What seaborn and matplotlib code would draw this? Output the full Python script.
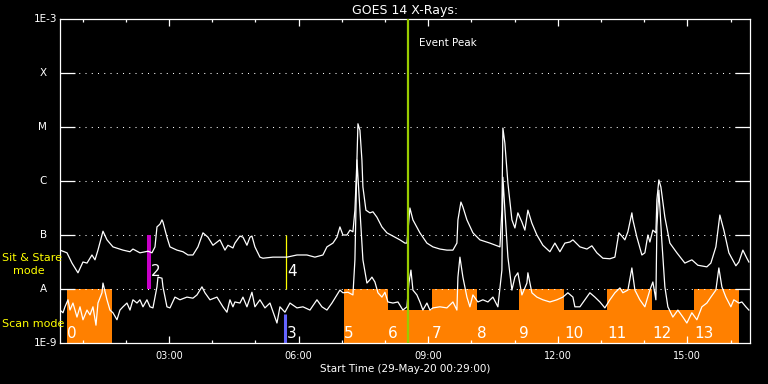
import numpy as np
import pandas as pd
import matplotlib
matplotlib.use("Agg")
import matplotlib.pyplot as plt
import seaborn as sns

# ---------------- data ----------------
# time in decimal hours (29-May-2020), flux given as log10(W/m^2)
long_hours = [
    0.475, 0.637, 0.752, 0.891, 1.007, 1.100, 1.215, 1.285, 1.354, 1.470,
    1.563, 1.701, 1.933, 2.095, 2.164, 2.326, 2.442, 2.512, 2.604, 2.674,
    2.720, 2.789, 2.836, 2.859, 2.951, 3.021, 3.183, 3.322, 3.438, 3.553,
    3.669, 3.785, 3.900, 4.016, 4.178, 4.294, 4.363, 4.479, 4.525, 4.641,
    4.711, 4.803, 4.873, 4.919, 4.988, 5.104, 5.174, 5.405, 5.729, 5.961,
    6.192, 6.377, 6.562, 6.655, 6.794, 6.887, 6.956, 7.025, 7.118, 7.188,
    7.257, 7.303, 7.350, 7.373, 7.419, 7.465, 7.488, 7.558, 7.650, 7.720,
    7.812, 7.928, 8.044, 8.183, 8.345, 8.461, 8.507, 8.576, 8.646, 8.808,
    8.970, 9.109, 9.271, 9.433, 9.572, 9.664, 9.688, 9.757, 9.803, 9.896,
    10.035, 10.197, 10.428, 10.660, 10.706, 10.729, 10.775, 10.845, 10.938, 11.007,
    11.076, 11.169, 11.238, 11.308, 11.400, 11.516, 11.655, 11.817, 11.933, 12.049,
    12.164, 12.280, 12.350, 12.512, 12.674, 12.789, 12.905, 13.044, 13.206, 13.322,
    13.414, 13.484, 13.553, 13.623, 13.715, 13.738, 13.831, 13.947, 14.016, 14.086,
    14.132, 14.201, 14.271, 14.294, 14.340, 14.387, 14.479, 14.595, 14.757, 14.942,
    15.104, 15.243, 15.451, 15.544, 15.660, 15.752, 15.845, 15.961, 16.123, 16.192,
    16.285, 16.377, 16.424]
long_logflux = [
    -7.28, -7.33, -7.52, -7.70, -7.50, -7.52, -7.37, -7.46, -7.28, -6.93,
    -7.09, -7.22, -7.28, -7.31, -7.26, -7.33, -7.31, -7.30, -7.33, -7.22,
    -6.85, -6.80, -6.72, -6.76, -7.04, -7.22, -7.28, -7.31, -7.37, -7.37,
    -7.22, -6.96, -7.04, -7.19, -7.09, -7.28, -7.19, -7.24, -7.15, -7.02,
    -7.04, -7.19, -7.04, -7.02, -7.22, -7.41, -7.43, -7.41, -7.41, -7.37,
    -7.37, -7.41, -7.37, -7.22, -7.15, -7.04, -6.85, -7.00, -7.00, -6.91,
    -6.94, -6.54, -5.61, -4.94, -5.06, -5.61, -6.11, -6.54, -6.59, -6.57,
    -6.67, -6.85, -6.96, -7.02, -7.09, -7.15, -7.15, -6.50, -6.72, -6.96,
    -7.15, -7.22, -7.26, -7.28, -7.28, -7.15, -6.72, -6.39, -6.48, -6.72,
    -6.96, -7.09, -7.15, -7.22, -6.54, -5.02, -5.30, -6.04, -6.72, -6.87,
    -6.59, -6.76, -6.91, -6.54, -6.78, -7.00, -7.19, -7.31, -7.15, -7.31,
    -7.15, -7.13, -7.09, -7.22, -7.26, -7.20, -7.33, -7.43, -7.44, -7.41,
    -6.96, -7.02, -7.09, -6.94, -6.59, -6.72, -7.04, -7.37, -7.33, -7.00,
    -7.13, -6.91, -6.96, -6.35, -5.98, -6.11, -6.67, -7.15, -7.33, -7.52,
    -7.46, -7.56, -7.59, -7.52, -7.22, -6.63, -6.91, -7.33, -7.57, -7.50,
    -7.28, -7.43, -7.50]

short_hours = [
    0.475, 0.544, 0.590, 0.660, 0.706, 0.775, 0.868, 0.938, 1.007, 1.100,
    1.169, 1.238, 1.308, 1.354, 1.447, 1.470, 1.563, 1.632, 1.701, 1.794,
    1.863, 1.933, 2.025, 2.095, 2.164, 2.257, 2.326, 2.396, 2.488, 2.558,
    2.627, 2.720, 2.743, 2.836, 2.859, 2.951, 3.021, 3.137, 3.252, 3.414,
    3.553, 3.646, 3.762, 3.831, 3.947, 4.109, 4.248, 4.340, 4.410, 4.479,
    4.525, 4.641, 4.711, 4.803, 4.919, 4.988, 5.104, 5.220, 5.336, 5.498,
    5.567, 5.683, 5.799, 5.961, 6.100, 6.262, 6.424, 6.539, 6.655, 6.771,
    6.887, 6.956, 7.025, 7.141, 7.257, 7.303, 7.326, 7.350, 7.419, 7.488,
    7.581, 7.650, 7.697, 7.766, 7.836, 7.928, 7.998, 8.067, 8.183, 8.299,
    8.414, 8.507, 8.553, 8.600, 8.646, 8.738, 8.808, 8.877, 8.970, 9.039,
    9.109, 9.271, 9.433, 9.572, 9.664, 9.688, 9.734, 9.803, 9.896, 9.965,
    10.035, 10.150, 10.266, 10.382, 10.498, 10.613, 10.706, 10.729, 10.775, 10.845,
    10.938, 11.007, 11.076, 11.169, 11.285, 11.308, 11.400, 11.516, 11.655, 11.817,
    11.979, 12.118, 12.234, 12.350, 12.396, 12.512, 12.627, 12.743, 12.859, 12.975,
    13.090, 13.206, 13.322, 13.438, 13.507, 13.623, 13.715, 13.785, 13.900, 14.016,
    14.132, 14.201, 14.271, 14.294, 14.340, 14.410, 14.479, 14.549, 14.664, 14.780,
    14.896, 14.988, 15.104, 15.220, 15.336, 15.451, 15.544, 15.660, 15.729, 15.799,
    15.891, 16.007, 16.076, 16.192, 16.262, 16.354, 16.424]
short_logflux = [
    -8.39, -8.44, -8.33, -8.20, -8.39, -8.26, -8.52, -8.33, -8.57, -8.39,
    -8.48, -8.33, -8.67, -8.26, -8.07, -7.89, -8.20, -8.39, -8.44, -8.57,
    -8.39, -8.33, -8.26, -8.39, -8.20, -8.26, -8.20, -8.33, -8.20, -8.33,
    -8.35, -7.96, -7.78, -7.80, -7.96, -8.33, -8.35, -8.15, -8.20, -8.15,
    -8.17, -8.11, -7.96, -8.07, -8.20, -8.15, -8.33, -8.43, -8.20, -8.33,
    -8.24, -8.26, -8.15, -8.33, -8.06, -8.33, -8.20, -8.35, -8.26, -8.63,
    -8.33, -8.43, -8.26, -8.35, -8.33, -8.39, -8.20, -8.33, -8.39, -8.26,
    -8.11, -8.02, -8.07, -8.06, -8.11, -7.46, -6.54, -5.61, -6.54, -7.46,
    -7.89, -7.83, -7.78, -7.87, -8.07, -8.15, -8.06, -8.24, -8.26, -8.24,
    -8.39, -8.33, -7.89, -7.65, -8.02, -8.11, -8.24, -8.39, -8.26, -8.39,
    -8.35, -8.33, -8.35, -8.24, -8.39, -7.78, -7.41, -7.78, -8.15, -8.33,
    -8.11, -8.24, -8.20, -8.24, -8.15, -8.33, -7.65, -5.93, -6.54, -7.41,
    -8.02, -7.78, -7.70, -8.11, -7.89, -7.70, -8.07, -8.15, -8.20, -8.24,
    -8.20, -8.15, -8.07, -8.15, -8.33, -8.33, -8.20, -8.07, -8.15, -8.24,
    -8.35, -8.20, -8.07, -7.98, -8.07, -8.02, -7.61, -8.02, -8.20, -8.33,
    -8.02, -7.87, -8.20, -6.85, -6.17, -7.13, -7.96, -8.33, -8.52, -8.39,
    -8.52, -8.63, -8.44, -8.57, -8.33, -8.26, -8.15, -8.02, -7.61, -7.96,
    -8.15, -8.33, -8.20, -8.26, -8.24, -8.33, -8.39]

# scan-mode observation blocks
scan_labels = ["0", "5", "6", "7", "8", "9", "10", "11", "12", "13"]
scan_start = [0.637, 7.049, 8.067, 9.086, 10.127, 11.100, 12.141, 13.137, 14.178, 15.150]
scan_end = [1.678, 8.067, 9.086, 10.127, 11.100, 12.141, 13.137, 14.178, 15.150, 16.192]
scan_top = [1e-8, 1e-8, 4.1e-9, 1e-8, 4.1e-9, 1e-8, 4.1e-9, 1e-8, 4.1e-9, 1e-8]

# sit & stare / scan markers
marker_labels = ["2", "3", "4"]
marker_hours = [2.535, 5.690, 5.706]
marker_low = [1e-8, 1e-9, 1e-8]
marker_high = [1e-7, 3.4e-9, 1e-7]
event_peak_hour = 8.53

class_levels = [1e-9, 1e-8, 1e-7, 1e-6, 1e-5, 1e-4, 1e-3]
class_labels = ["1E-9", "A", "B", "C", "M", "X", "1E-3"]
x_ticks = [3, 6, 9, 12, 15]
x_ticklabels = ["03:00", "06:00", "09:00", "12:00", "15:00"]
x_limits = (0.475, 16.45)

# ---------------- figure ----------------
W, H = 768, 384
fig = plt.figure(figsize=(W / 100, H / 100), dpi=100, facecolor="black")
ax = fig.add_axes([60 / W, (H - 343) / H, 690 / W, 324 / H], facecolor="black")
plt.rcParams["font.family"] = ["DejaVu Sans"]

ax.set_yscale("log")
ax.set_xlim(*x_limits)
ax.set_ylim(class_levels[0], class_levels[-1])

# scan blocks
widths = [e - s for s, e in zip(scan_start, scan_end)]
heights = [t - class_levels[0] for t in scan_top]
ax.bar(scan_start, heights, width=widths, bottom=class_levels[0], align="edge",
       color="#ff8000", linewidth=0, zorder=1)
for lab, s in zip(scan_labels, scan_start):
    ax.annotate(lab, xy=(s, class_levels[0]), xytext=(0, 10), textcoords="offset pixels",
                ha="left", va="center", color="white", fontsize=11, zorder=5)

# markers
m_colors = ["#c800c8", "#6464ff", "#ffff00"]
m_widths = [2.9, 2.2, 0.9]
for lab, h, lo, hi, c, w in zip(marker_labels, marker_hours, marker_low, marker_high, m_colors, m_widths):
    ax.plot([h, h], [lo, hi], color=c, lw=w, solid_capstyle="butt", zorder=2)
    dy = 10 if lo == class_levels[0] else 17
    ax.annotate(lab, xy=(h, lo), xytext=(1.5, dy), textcoords="offset pixels",
                ha="left", va="center", color="white", fontsize=11, zorder=5)

# curves
df_long = pd.DataFrame({"hours": long_hours, "flux": np.power(10.0, long_logflux)})
df_short = pd.DataFrame({"hours": short_hours, "flux": np.power(10.0, short_logflux)})
sns.lineplot(data=df_long, x="hours", y="flux", color="white", lw=0.9, ax=ax,
             estimator=None, sort=False, zorder=3)
sns.lineplot(data=df_short, x="hours", y="flux", color="white", lw=0.9, ax=ax,
             estimator=None, sort=False, zorder=3)

# event peak
ax.axvline(event_peak_hour, color="#99cc00", lw=1.6, zorder=4)
ax.annotate("Event Peak", xy=(event_peak_hour, class_levels[-1]), xytext=(11, -24),
            textcoords="offset pixels", ha="left", va="center", color="white", fontsize=7.5)

# axes styling
for sp in ax.spines.values():
    sp.set_color("white")
    sp.set_linewidth(0.9)
ax.set_yticks(class_levels[1:-1])
ax.yaxis.set_minor_locator(matplotlib.ticker.NullLocator())
ax.tick_params(axis="y", which="major", direction="in", length=10.8, width=0.9,
               color="white", left=True, right=True, labelleft=False)
ax.grid(axis="y", which="major", color="white", linestyle=(0, (1, 5)), linewidth=0.75)
ax.grid(axis="x", visible=False)
for lev, lab in zip(class_levels, class_labels):
    off = -3 if lab.startswith("1E") else -13
    ax.annotate(lab, xy=(0, lev), xycoords=("axes fraction", "data"), xytext=(off, 0),
                textcoords="offset pixels", ha="right", va="center", color="white", fontsize=7.5)

ax.set_xticks(x_ticks)
ax.set_xticklabels(x_ticklabels)
ax.set_xticks(list(range(1, 17)), minor=True)
ax.tick_params(axis="x", which="major", direction="in", length=5, width=0.9, color="white",
               top=True, bottom=True, labelcolor="white", labelsize=7, pad=6)
ax.tick_params(axis="x", which="minor", direction="in", length=2.5, width=0.9, color="white",
               top=True, bottom=True)
ax.set_xlabel("Start Time (29-May-20 00:29:00)", color="white", fontsize=7.5, labelpad=2)
ax.set_ylabel("")
ax.set_title("GOES 14 X-Rays:", color="white", fontsize=9, pad=3.6)

fig.text(2 / W, 1 - 258 / H, "Sit & Stare", color="#ffff00", fontsize=8, ha="left", va="center")
fig.text(13 / W, 1 - 271 / H, "mode", color="#ffff00", fontsize=8, ha="left", va="center")
fig.text(2 / W, 1 - 324 / H, "Scan mode", color="#ffff00", fontsize=8, ha="left", va="center")

fig.savefig("out.png", dpi=100, facecolor="black")
